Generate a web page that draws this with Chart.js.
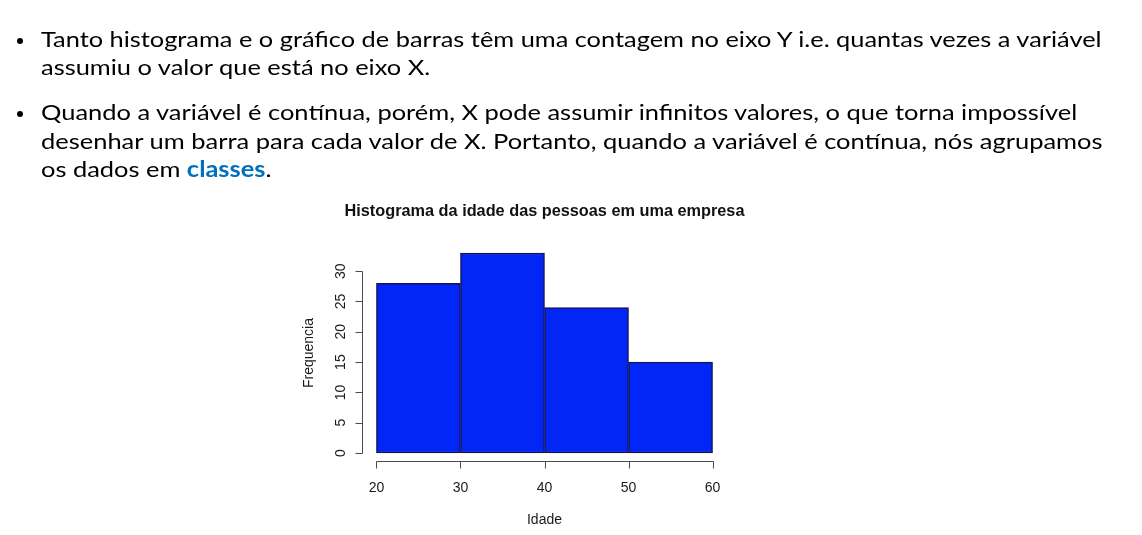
<!DOCTYPE html>
<html>
<head>
<meta charset="utf-8">
<script src="https://cdn.jsdelivr.net/npm/chart.js@4.4.0/dist/chart.umd.min.js"></script>
<style>
  html, body { margin: 0; padding: 0; background: #fff; }
  #page { position: relative; width: 1142px; height: 535px; overflow: hidden; }
  #histChart { position: absolute; left: 0; top: 0; }
  .line { position: absolute; left: 41px; white-space: nowrap; font-family: Lato, "Open Sans", sans-serif;
          font-size: 22px; line-height: 22px; color: #000; transform-origin: 0 0; }
  .bullet { position: absolute; left: 17px; width: 6px; height: 6px; border-radius: 50%; background: #000; }
  .destaque { color: #0070c0; font-weight: bold; }
</style>
</head>
<body>
<div id="page">
  <canvas id="histChart" width="1142" height="535"></canvas>

  <div class="bullet" style="top:38px"></div>
  <div class="line" data-base="46.7" data-right="1101.7">Tanto histograma e o gráfico de barras têm uma contagem no eixo Y i.e. quantas vezes a variável</div>
  <div class="line" data-base="75">assumiu o valor que está no eixo X.</div>

  <div class="bullet" style="top:111px"></div>
  <div class="line" data-base="120" data-right="1076.7">Quando a variável é contínua, porém, X pode assumir infinitos valores, o que torna impossível</div>
  <div class="line" data-base="148.5" data-right="1102.7">desenhar um barra para cada valor de X. Portanto, quando a variável é contínua, nós agrupamos</div>
  <div class="line" data-base="177">os dados em <span class="destaque">classes</span>.</div>
</div>

<script>
// dados do histograma
const classesInicio = [20, 30, 40, 50];
const classesFim = [30, 40, 50, 60];
const frequencias = [28, 33, 24, 15];
const ticksX = [20, 30, 40, 50, 60];
const ticksY = [0, 5, 10, 15, 20, 25, 30];
const titulo = 'Histograma da idade das pessoas em uma empresa';
const rotuloX = 'Idade';
const rotuloY = 'Frequencia';

// posiciona e ajusta as linhas de texto (fonte parecida com Calibri)
function ajustarTexto() {
  const linhas = document.querySelectorAll('.line');
  let escalas = [];
  linhas.forEach(el => {
    const marca = document.createElement('span');
    marca.style.cssText = 'display:inline-block;width:0;height:0;vertical-align:baseline';
    el.appendChild(marca);
    const base = marca.offsetTop;
    el.removeChild(marca);
    el.style.top = (parseFloat(el.dataset.base) - base) + 'px';
    if (el.dataset.right) {
      const s = (parseFloat(el.dataset.right) - 41) / el.scrollWidth;
      el.dataset.escala = s;
      escalas.push(s);
    }
  });
  const media = escalas.reduce((a, b) => a + b, 0) / escalas.length;
  linhas.forEach(el => {
    const s = el.dataset.escala ? parseFloat(el.dataset.escala) : media;
    el.style.transform = 'scaleX(' + s + ')';
  });
}
ajustarTexto();

// eixos no estilo do R (linhas só até o último tick, rótulos do y girados)
const eixosR = {
  id: 'eixosR',
  afterDraw(chart) {
    const ctx = chart.ctx;
    const xs = chart.scales.x;
    const ys = chart.scales.y;
    const area = chart.chartArea;
    ctx.save();
    ctx.strokeStyle = '#4a4a4a';
    ctx.lineWidth = 1;
    ctx.fillStyle = '#1a1a1a';

    // eixo x
    const yEixo = Math.round(area.bottom) + 0.5;
    ctx.beginPath();
    ctx.moveTo(Math.round(xs.getPixelForValue(ticksX[0])) + 0.5, yEixo);
    ctx.lineTo(Math.round(xs.getPixelForValue(ticksX[ticksX.length - 1])) + 0.5, yEixo);
    ticksX.forEach(v => {
      const px = Math.round(xs.getPixelForValue(v)) + 0.5;
      ctx.moveTo(px, yEixo);
      ctx.lineTo(px, yEixo + 7);
    });
    ctx.stroke();
    ctx.font = '14px "Liberation Sans", Arial, sans-serif';
    ctx.textAlign = 'center';
    ctx.textBaseline = 'middle';
    ticksX.forEach(v => ctx.fillText(String(v), xs.getPixelForValue(v), yEixo + 26.5));

    // eixo y
    const xEixo = Math.round(area.left) - 0.5;
    ctx.beginPath();
    ctx.moveTo(xEixo, Math.round(ys.getPixelForValue(ticksY[0])) + 0.5);
    ctx.lineTo(xEixo, Math.round(ys.getPixelForValue(ticksY[ticksY.length - 1])) + 0.5);
    ticksY.forEach(v => {
      const py = Math.round(ys.getPixelForValue(v)) + 0.5;
      ctx.moveTo(xEixo, py);
      ctx.lineTo(xEixo - 7, py);
    });
    ctx.stroke();
    ticksY.forEach(v => {
      ctx.save();
      ctx.translate(xEixo - 21, ys.getPixelForValue(v));
      ctx.rotate(-Math.PI / 2);
      ctx.fillText(String(v), 0, 0);
      ctx.restore();
    });

    // títulos dos eixos
    const centroX = (xs.getPixelForValue(ticksX[0]) + xs.getPixelForValue(ticksX[ticksX.length - 1])) / 2;
    ctx.fillText(rotuloX, centroX, 520);
    ctx.save();
    ctx.translate(309, (area.top + area.bottom) / 2);
    ctx.rotate(-Math.PI / 2);
    ctx.fillText(rotuloY, 0, 0);
    ctx.restore();

    // título principal
    ctx.font = 'bold 16.3px "Liberation Sans", Arial, sans-serif';
    ctx.fillStyle = '#111';
    ctx.fillText(titulo, centroX, 212);
    ctx.restore();
  }
};

const pontos = frequencias.map((f, i) => ({ x: (classesInicio[i] + classesFim[i]) / 2, y: f }));
const largura = classesFim[classesFim.length - 1] - classesInicio[0];
const maxFreq = Math.max(...frequencias);

new Chart(document.getElementById('histChart').getContext('2d'), {
  type: 'bar',
  data: {
    datasets: [{
      label: rotuloY,
      data: pontos,
      backgroundColor: 'rgb(2, 38, 246)',
      borderColor: '#15155a',
      borderWidth: 1.5,
      borderSkipped: false,
      barPercentage: 1,
      categoryPercentage: 1
    }]
  },
  options: {
    responsive: false,
    animation: false,
    devicePixelRatio: 1,
    layout: { padding: { left: 363, right: 416, top: 245, bottom: 74 } },
    plugins: { legend: { display: false }, tooltip: { enabled: false } },
    scales: {
      x: {
        type: 'linear',
        display: false,
        offset: false,
        min: classesInicio[0] - largura * 0.04,
        max: classesFim[classesFim.length - 1] + largura * 0.04,
        afterBuildTicks: axis => { axis.ticks = ticksX.map(v => ({ value: v })); }
      },
      y: {
        display: false,
        min: -maxFreq * 0.04,
        max: maxFreq * 1.04,
        afterBuildTicks: axis => { axis.ticks = ticksY.map(v => ({ value: v })); }
      }
    }
  },
  plugins: [eixosR]
});
</script>
</body>
</html>
